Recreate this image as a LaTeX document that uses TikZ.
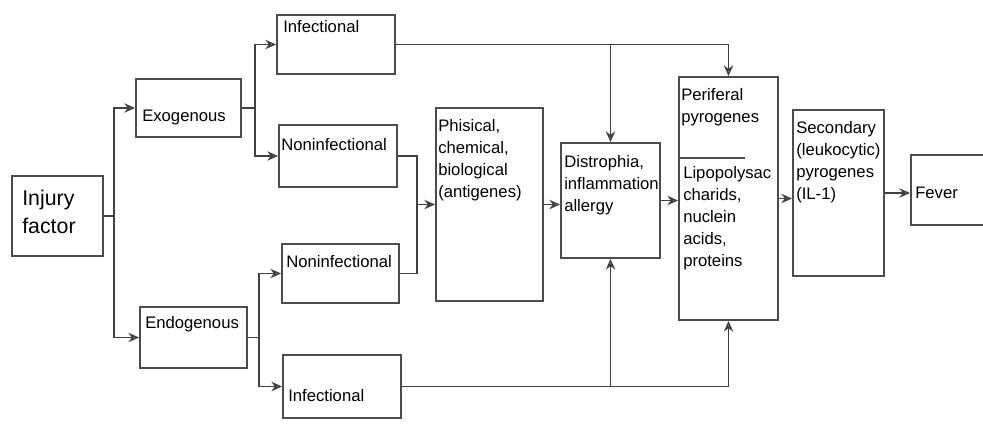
\documentclass[tikz,border=0pt]{standalone}
\usepackage{fontspec}
\setmainfont{Liberation Sans}
\usetikzlibrary{arrows.meta,fit,calc}
\begin{document}
\begin{tikzpicture}[x=0.75pt,y=-0.75pt,
	box/.style={draw=black!70,line width=1.4pt,inner sep=0pt},
	txt/.style={inner sep=0pt,align=left,font=\fontsize{12.5}{16.5}\selectfont},
	wire/.style={draw=black!75,line width=1.2pt},
	conn/.style={wire,-{Stealth[open,length=8pt,width=7pt]}}]
	\useasboundingbox (0,0) rectangle (983,429);
	% draw the boxes
	\node[box,fit={(12,176) (103,256)}] (injury) {};
	\node[box,fit={(136,79) (241,137)}] (exo) {};
	\node[box,fit={(140,307) (247,368)}] (endo) {};
	\node[box,fit={(277,15) (395,74)}] (infA) {};
	\node[box,fit={(279,125) (397,187)}] (nonA) {};
	\node[box,fit={(282,244) (399,303)}] (nonB) {};
	\node[box,fit={(283,355) (401,418)}] (infB) {};
	\node[box,fit={(436,108) (543,301)}] (phys) {};
	\node[box,fit={(561,143) (660,258)}] (dist) {};
	\node[box,fit={(679,77) (778,320)}] (peri) {};
	\node[box,fit={(793,110) (884,276)}] (sec) {};
	\node[box,fit={(911,155) (995,225)}] (fever) {};
	\draw[box] (679,158) -- (745,158);
	% texts
	\node[txt,anchor=west,font=\fontsize{16}{21}\selectfont] (tInjury) at (22,212) {Injury\\factor};
	\node[txt,anchor=west] (tExo) at (142,117) {Exogenous};
	\node[txt,anchor=west] (tEndo) at (145,324) {Endogenous};
	\node[txt,anchor=west] (tInfA) at (283,27) {Infectional};
	\node[txt,anchor=west] (tNonA) at (281,145) {Noninfectional};
	\node[txt,anchor=west] (tNonB) at (286,262) {Noninfectional};
	\node[txt,anchor=west] (tInfB) at (288,396) {Infectional};
	\node[txt,anchor=north west] (tPhys) at (438,119) {Phisical,\\chemical,\\biological\\(antigenes)};
	\node[txt,anchor=north west] (tDist) at (564,155) {Distrophia,\\inflammation\\allergy};
	\node[txt,anchor=north west] (tPeri) at (681,88) {Periferal\\pyrogenes};
	\node[txt,anchor=north west] (tLipo) at (683,166) {Lipopolysac\\charids,\\nuclein\\acids,\\proteins};
	\node[txt,anchor=north west] (tSec) at (796,121) {Secondary\\(leukocytic)\\pyrogenes\\(IL-1)};
	\node[txt,anchor=west] (tFever) at (915,193) {Fever};
	% draw the arrows
	\draw[conn] (injury.east) -- ++(10,0) |- (exo.west);
	\draw[conn] (injury.east) -- ++(10,0) |- (endo.west);
	\draw[conn] (exo.east) -- ++(13,0) |- (infA.west);
	\draw[conn] (exo.east) -- ++(13,0) |- (nonA.west);
	\draw[conn] (endo.east) -- ++(11,0) |- (nonB.west);
	\draw[conn] (endo.east) -- ++(11,0) |- (infB.west);
	\coordinate (jPhys) at ($(phys.west)+(-18,0)$);
	\draw[wire] (nonA.east) -| (jPhys);
	\draw[wire] (nonB.east) -| (jPhys);
	\draw[conn] (jPhys) -- (phys.west);
	\draw[conn] (phys.east) -- (phys.east -| dist.west);
	\draw[conn] (dist.east) -- (dist.east -| peri.west);
	\draw[conn] (peri.east) -- (peri.east -| sec.west);
	\draw[conn] (sec.east) -- (sec.east -| fever.west);
	\draw[conn] (infA.east) -| (peri.north);
	\draw[conn] (infA.east -| dist.north) -- (dist.north);
	\draw[conn] (infB.east) -| (peri.south);
	\draw[conn] (infB.east -| dist.south) -- (dist.south);
\end{tikzpicture}
\end{document}
